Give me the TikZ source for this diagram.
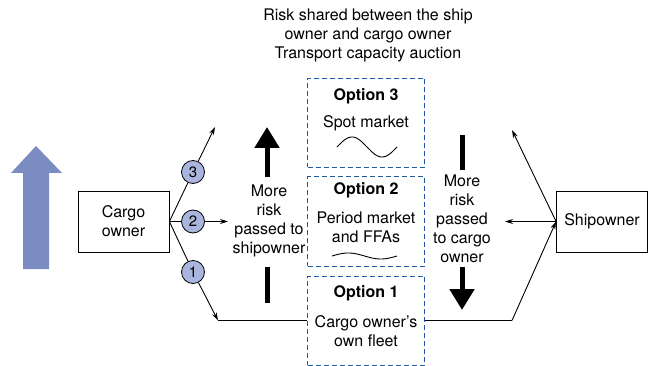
\documentclass[tikz,border=0pt]{standalone}
\usepackage{fontspec}
\setmainfont{TeX Gyre Heros}
\usetikzlibrary{arrows.meta, positioning}
\definecolor{dashblue}{HTML}{1E58A0}
\definecolor{arrowblue}{HTML}{7B8CC2}
\definecolor{circblue}{HTML}{A9B5DC}

\begin{document}
\begin{tikzpicture}[x=1pt, y=-1pt,
        txt/.style={font=\fontsize{16}{19}\selectfont, align=center, inner sep=0pt},
        party/.style={draw, line width=0.8pt, minimum width=91pt, minimum height=61pt, txt},
        optbox/.style={draw=dashblue, dash pattern=on 5pt off 3pt, line width=1pt, minimum width=117pt, minimum height=89pt},
        num/.style={circle, draw, fill=circblue, line width=0.8pt, minimum size=23pt, inner sep=0pt, font=\fontsize{15}{15}\selectfont},
        link/.style={line width=0.9pt, -{Stealth[length=8pt, width=5pt]}},
        fat/.style={line width=5pt, -{Triangle[length=21pt, width=24pt]}}
    ]
        \useasboundingbox (0,0) rectangle (648,366);
        % title
        \node[txt] (title) at (368,35) {Risk shared between the ship\\owner and cargo owner\\Transport capacity auction};
        % parties
        \node[party] (cargo) at (123.5,221.5) {Cargo\\owner};
        \node[party] (ship) at (602,221.5) {Shipowner};
        % options
        \node[optbox] (opt3) at (366,123) {};
        \node[optbox] (opt2) at (366,221.5) {};
        \node[optbox] (opt1) at (366,320.5) {};
        \node[txt] (t3) at (366,96) {\textbf{Option 3}};
        \node[txt] (s3) at (366,123) {Spot market};
        \node[txt] (t2) at (366,190) {\textbf{Option 2}};
        \node[txt] (s2) at (366,227) {Period market\\and FFAs};
        \node[txt] (t1) at (366,293) {\textbf{Option 1}};
        \node[txt] (s1) at (366,331.5) {Cargo owner’s\\own fleet};
        \draw[line width=0.9pt] plot[domain=0:360, samples=50] ({337+\x/6}, {147-10*sin(\x)});
        \draw[line width=0.9pt] plot[domain=0:360, samples=50] ({332+\x*0.1806}, {256-3*sin(\x)});
        % risk labels
        \node[txt] (left) at (269,221) {More\\risk\\passed to\\shipowner};
        \node[txt] (right) at (462,219) {More\\risk\\passed\\to cargo\\owner};
        \draw[fat] (267,177) -- (267,127);
        \draw[line width=5pt] (267,267) -- (267,303);
        \draw[line width=5pt] (462,135) -- (462,170);
        \draw[fat] (462,267) -- (462,310);
        \fill[arrowblue] (23,269) -- (23,173) -- (11,173) -- (36,146) -- (62,173) -- (49,173) -- (49,269) -- cycle;
        % choices
        \node[num] (c3) at (193,172) {3};
        \node[num] (c2) at (193,221.5) {2};
        \node[num] (c1) at (193,272) {1};
        \coordinate (e3) at (215,127);
        \coordinate (e2) at (228,221.5);
        \coordinate (k1) at (218,320.5);
        \coordinate (f3) at (512,130);
        \coordinate (f2) at (505,221.5);
        \coordinate (k2) at (512,320.5);
        \draw[line width=0.9pt] (cargo.east) -- (c3);
        \draw[line width=0.9pt] (cargo.east) -- (c2);
        \draw[line width=0.9pt] (cargo.east) -- (c1);
        \draw[link] (c3) -- (e3);
        \draw[link] (c2) -- (e2);
        \draw[link] (c1) -- (k1);
        \draw[line width=0.9pt] (k1) -- (opt1);
        \draw[line width=0.9pt] (opt1) -- (k2);
        \draw[link] (k2) -- (ship.west);
        \draw[link] (ship.west) -- (f3);
        \draw[link] (ship.west) -- (f2);
\end{tikzpicture}
\end{document}
